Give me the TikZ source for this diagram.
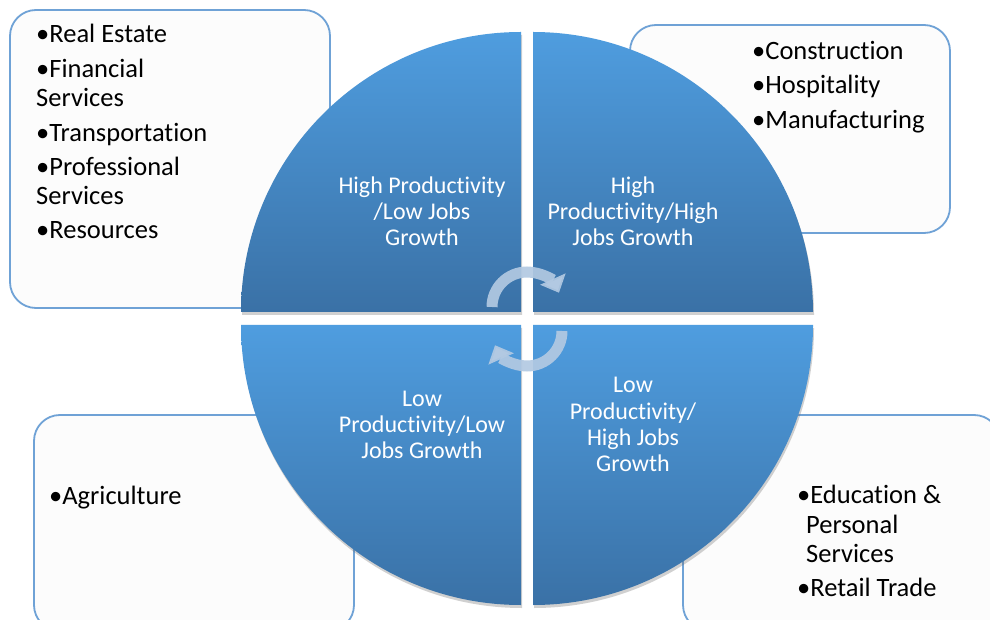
\documentclass[tikz,border=0pt]{standalone}
\usepackage{fontspec}
\setmainfont{Carlito}[Ligatures=NoCommon]
\usetikzlibrary{arrows.meta,shadows}
\definecolor{boxline}{HTML}{6FA2D6}
\definecolor{boxfill}{HTML}{FCFCFC}
\definecolor{qtop}{HTML}{4F9DDF}
\definecolor{qbot}{HTML}{3A71A6}
\definecolor{arrcol}{HTML}{B2C9E2}
\begin{document}
\begin{tikzpicture}[x=1pt,y=1pt,
  catbox/.style={draw=boxline,line width=1.8pt,fill=boxfill,rounded corners=26pt},
  quad/.style={top color=qtop,bottom color=qbot,
    drop shadow={shadow xshift=1pt,shadow yshift=-3pt,opacity=.3,fill=black!60}},
  item/.style={anchor=base west,inner sep=0pt,font=\fontsize{26.5}{29}\selectfont,text=black},
  qtext/.style={anchor=base,inner sep=0pt,font=\fontsize{24}{26}\selectfont,text=white},
  cyc/.style={draw=arrcol,line width=11pt,draw opacity=.92,
    -{Triangle[width=27pt,length=15pt]}}]
\useasboundingbox (0,0) rectangle (990,619);
\fill[white] (0,0) rectangle (990,619);
% category boxes
\path[catbox] (10,311) rectangle (330,609);
\path[catbox] (630,386) rectangle (950,594);
\path[catbox] (34,-12) rectangle (354,204);
\path[catbox] (683,-12) rectangle (1000,204);
% quadrants
\path[quad] (521,307) -- ++(-280,0) arc[start angle=180,end angle=90,radius=280] -- cycle;
\path[quad] (533,307) -- ++(0,280) arc[start angle=90,end angle=0,radius=280] -- cycle;
\path[quad] (521,294) -- ++(0,-280) arc[start angle=270,end angle=180,radius=280] -- cycle;
\path[quad] (533,294) -- ++(280,0) arc[start angle=0,end angle=-90,radius=280] -- cycle;
% quadrant labels
\node[qtext] (q1a) at (422,425) {High Productivity};
\node[qtext] (q1b) at (422,399) {/Low Jobs};
\node[qtext] (q1c) at (422,373) {Growth};
\node[qtext] (q2a) at (633,425) {High};
\node[qtext] (q2b) at (633,399) {Productivity/High};
\node[qtext] (q2c) at (633,373) {Jobs Growth};
\node[qtext] (q3a) at (422,213) {Low};
\node[qtext] (q3b) at (422,187) {Productivity/Low};
\node[qtext] (q3c) at (422,161) {Jobs Growth};
\node[qtext] (q4a) at (633,226) {Low};
\node[qtext] (q4b) at (633,200) {Productivity/};
\node[qtext] (q4c) at (633,174) {High Jobs};
\node[qtext] (q4d) at (633,148) {Growth};
% box items
\node[item] (tl1) at (36,576) {•Real Estate};
\node[item] (tl2) at (36,541) {•Financial};
\node[item] (tl3) at (36,512) {Services};
\node[item] (tl4) at (36,477) {•Transportation};
\node[item] (tl5) at (36,443) {•Professional};
\node[item] (tl6) at (36,414) {Services};
\node[item] (tl7) at (36,380) {•Resources};
\node[item] (tr1) at (752,559) {•Construction};
\node[item] (tr2) at (752,525) {•Hospitality};
\node[item] (tr3) at (752,490) {•Manufacturing};
\node[item] (bl1) at (49,115) {•Agriculture};
\node[item] (br1) at (797,116) {•Education \&};
\node[item] (br2) at (806,86) {Personal};
\node[item] (br3) at (806,57) {Services};
\node[item] (br4) at (797,23) {•Retail Trade};
% cycle arrows
\coordinate (cu) at (527,312);
\coordinate (cd) at (527,288);
\draw[cyc] (cu) ++(180:35) arc[start angle=180,end angle=24,radius=35];
\draw[cyc] (cd) ++(0:35) arc[start angle=0,end angle=-156,radius=35];
\end{tikzpicture}
\end{document}
